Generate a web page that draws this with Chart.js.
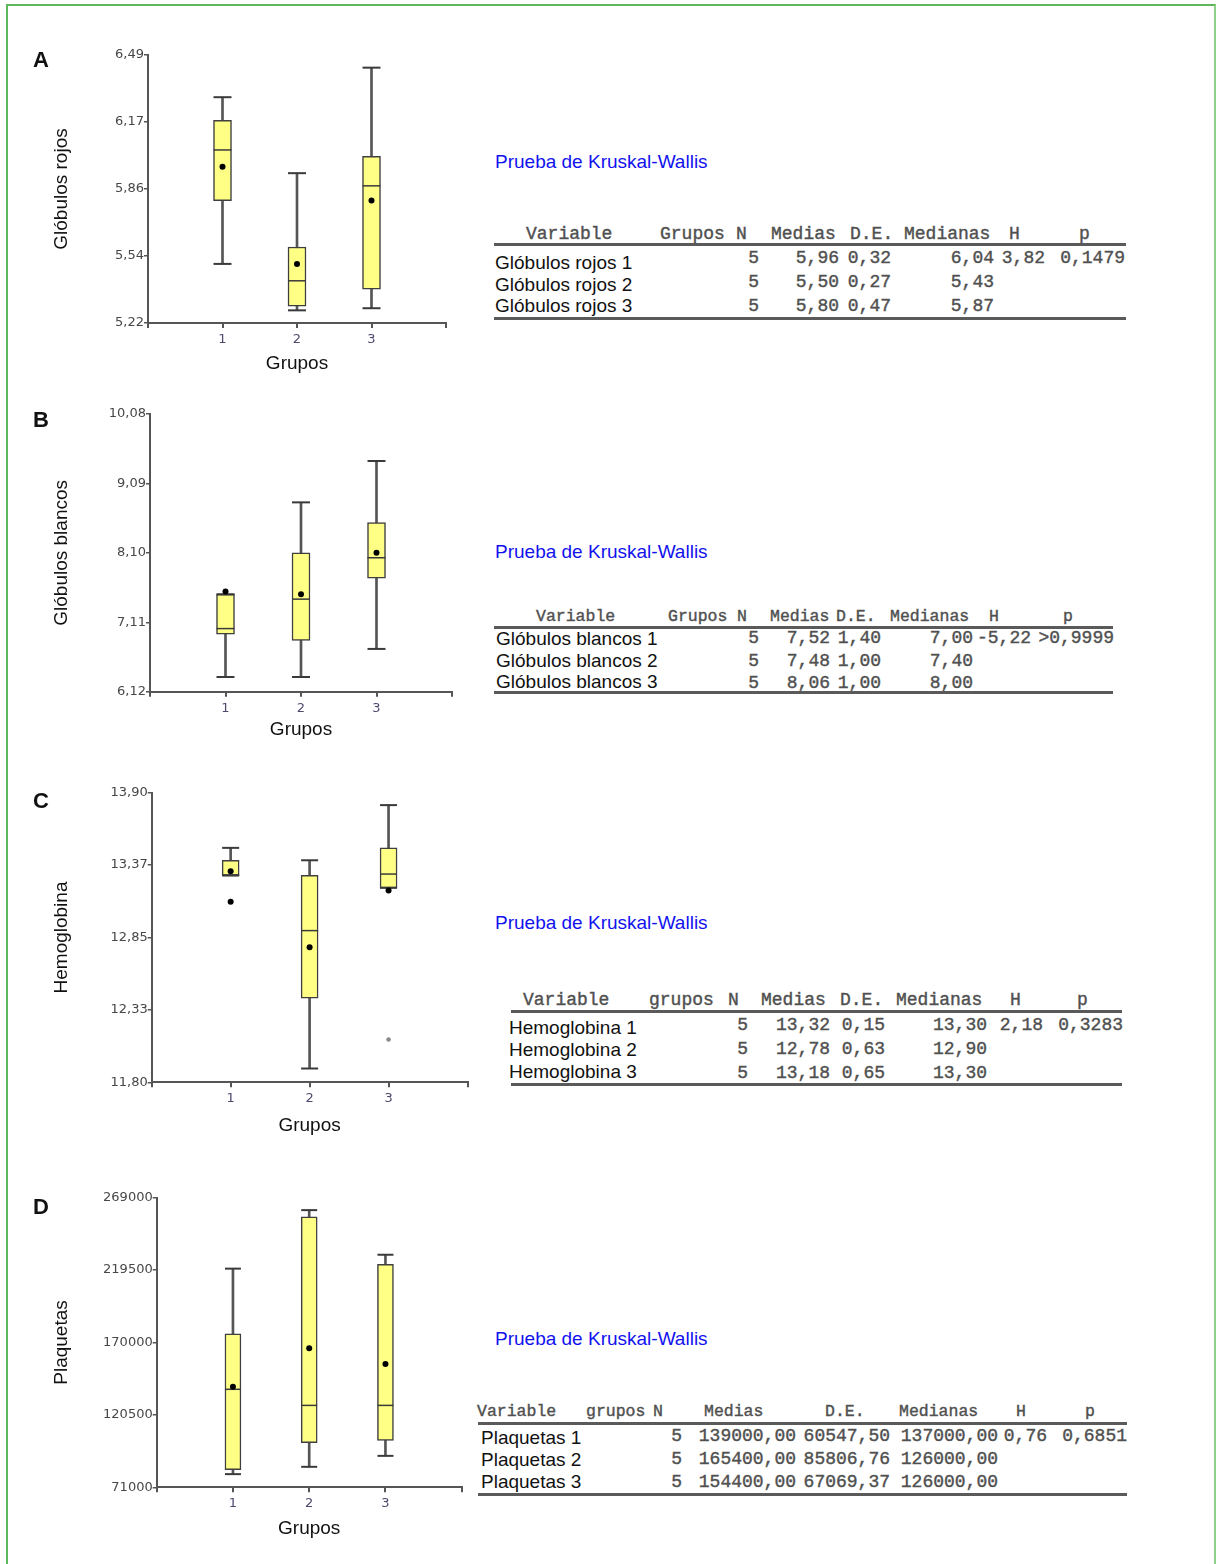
<!DOCTYPE html>
<html><head><meta charset="utf-8">
<script src="https://cdn.jsdelivr.net/npm/chart.js@4.4.1/dist/chart.umd.min.js"></script>
<style>
html,body{margin:0;padding:0;background:#fff;}
#page{position:relative;width:1216px;height:1564px;overflow:hidden;font-family:'Liberation Sans',Arial,sans-serif;background:#fff;}
.frame{position:absolute;left:6px;top:4px;width:1206px;height:1600px;border-left:2px solid #5db85a;border-top:2px solid #5db85a;border-right:2px solid #8fd08a;box-sizing:content-box;}
canvas{position:absolute;left:0;}
.t{position:absolute;white-space:pre;line-height:1;}
.letter{font-weight:bold;font-size:22px;color:#111;transform:translate(-50%,-50%);}
.kw{font-size:19px;color:#1212ee;transform:translateY(-50%);}
.lab{font-size:19px;color:#111;transform:translateY(-50%);}
.mono{font-family:'Liberation Mono','DejaVu Sans Mono',monospace;font-size:18px;font-weight:normal;color:#505050;-webkit-text-stroke:0.4px #505050;}
.hd{transform:translateY(-50%);}
.num{transform:translate(-100%,-50%);}
.rule{position:absolute;height:3px;background:#5a5a5a;}
</style></head>
<body>
<div id="page">
<div class="frame"></div>
<canvas id="cA"></canvas>
<canvas id="cB"></canvas>
<canvas id="cC"></canvas>
<canvas id="cD"></canvas>
</div>
<script>
// ---------- shared ----------
const groups = [1, 2, 3];
const xTickValues = [0, 1, 2, 3, 4];
const xTickLabels = ['', '1', '2', '3', ''];
const xTitle = 'Grupos';
const panelLetters = ['A', 'B', 'C', 'D'];

// ---------- Panel A: Glóbulos rojos ----------
const rojosTickValues = [5.22, 5.5375, 5.855, 6.1725, 6.49];
const rojosTickLabels = ['5,22', '5,54', '5,86', '6,17', '6,49'];
const rojosWhiskerLow = [5.50, 5.28, 5.29];
const rojosQ1 = [5.80, 5.30, 5.38];
const rojosMedian = [6.04, 5.42, 5.87];
const rojosQ3 = [6.18, 5.58, 6.01];
const rojosWhiskerHigh = [6.29, 5.93, 6.43];
const rojosMean = [5.96, 5.50, 5.80];
const rojosOutlierGroups = [];
const rojosOutlierValues = [];

// ---------- Panel B: Glóbulos blancos ----------
const blancosTickValues = [6.12, 7.11, 8.10, 9.09, 10.08];
const blancosTickLabels = ['6,12', '7,11', '8,10', '9,09', '10,08'];
const blancosWhiskerLow = [6.33, 6.33, 6.73];
const blancosQ1 = [6.94, 6.85, 7.74];
const blancosMedian = [7.02, 7.44, 8.03];
const blancosQ3 = [7.51, 8.10, 8.53];
const blancosWhiskerHigh = [7.51, 8.82, 9.41];
const blancosMean = [7.55, 7.51, 8.10];
const blancosOutlierGroups = [];
const blancosOutlierValues = [];

// ---------- Panel C: Hemoglobina ----------
const hemoTickValues = [11.80, 12.325, 12.85, 13.375, 13.90];
const hemoTickLabels = ['11,80', '12,33', '12,85', '13,37', '13,90'];
const hemoWhiskerLow = [13.30, 11.90, 13.21];
const hemoQ1 = [13.30, 12.41, 13.21];
const hemoMedian = [13.30, 12.90, 13.31];
const hemoQ3 = [13.41, 13.30, 13.50];
const hemoWhiskerHigh = [13.50, 13.41, 13.81];
const hemoMean = [13.33, 12.78, 13.19];
const hemoOutlierGroups = [1, 3];
const hemoOutlierValues = [13.11, 12.11];

// ---------- Panel D: Plaquetas ----------
const plaqTickValues = [71000, 120500, 170000, 219500, 269000];
const plaqTickLabels = ['71000', '120500', '170000', '219500', '269000'];
const plaqWhiskerLow = [80000, 85000, 92500];
const plaqQ1 = [83000, 101500, 103000];
const plaqMedian = [138000, 127000, 127000];
const plaqQ3 = [176000, 256000, 223500];
const plaqWhiskerHigh = [220500, 260500, 230000];
const plaqMean = [139800, 166000, 155300];
const plaqOutlierGroups = [];
const plaqOutlierValues = [];

// ---------- Kruskal-Wallis tables ----------
const kwTitle = 'Prueba de Kruskal-Wallis';
const kwHeaderA = ['Variable', 'Grupos', 'N', 'Medias', 'D.E.', 'Medianas', 'H', 'p'];
const kwHeaderC = ['Variable', 'grupos', 'N', 'Medias', 'D.E.', 'Medianas', 'H', 'p'];

const kwVarsA = ['Glóbulos rojos 1', 'Glóbulos rojos 2', 'Glóbulos rojos 3'];
const kwNA = ['5', '5', '5'];
const kwMediasA = ['5,96', '5,50', '5,80'];
const kwDEA = ['0,32', '0,27', '0,47'];
const kwMedianasA = ['6,04', '5,43', '5,87'];
const kwHA = ['3,82', '', ''];
const kwPA = ['0,1479', '', ''];

const kwVarsB = ['Glóbulos blancos 1', 'Glóbulos blancos 2', 'Glóbulos blancos 3'];
const kwNB = ['5', '5', '5'];
const kwMediasB = ['7,52', '7,48', '8,06'];
const kwDEB = ['1,40', '1,00', '1,00'];
const kwMedianasB = ['7,00', '7,40', '8,00'];
const kwHB = ['-5,22', '', ''];
const kwPB = ['>0,9999', '', ''];

const kwVarsC = ['Hemoglobina 1', 'Hemoglobina 2', 'Hemoglobina 3'];
const kwNC = ['5', '5', '5'];
const kwMediasC = ['13,32', '12,78', '13,18'];
const kwDEC = ['0,15', '0,63', '0,65'];
const kwMedianasC = ['13,30', '12,90', '13,30'];
const kwHC = ['2,18', '', ''];
const kwPC = ['0,3283', '', ''];

const kwVarsD = ['Plaquetas 1', 'Plaquetas 2', 'Plaquetas 3'];
const kwND = ['5', '5', '5'];
const kwMediasD = ['139000,00', '165400,00', '154400,00'];
const kwDED = ['60547,50', '85806,76', '67069,37'];
const kwMedianasD = ['137000,00', '126000,00', '126000,00'];
const kwHD = ['0,76', '', ''];
const kwPD = ['0,6851', '', ''];

// ---------- layout (positions / sizes only) ----------
const geo = {
  A: {yTop: 55, yBottom: 323, axisX: 148, xEnd: 447, titleY: 364, boxW: 18, letterY: 60},
  B: {yTop: 414, yBottom: 691.7, axisX: 150, xEnd: 453, titleY: 730, boxW: 18, letterY: 420},
  C: {yTop: 792.7, yBottom: 1082.3, axisX: 151.7, xEnd: 468, titleY: 1126, boxW: 17, letterY: 801},
  D: {yTop: 1197.7, yBottom: 1487.3, axisX: 156.7, xEnd: 461.7, titleY: 1529, boxW: 16, letterY: 1207}
};
const tblGeo = {
  A: {titleY: 161, headerY: 234, rule1: 244, rule2: 318, ruleX: [494, 1126], labelX: 495, hdSize: 18,
      labelYs: [262, 284, 305], numYs: [258, 282, 306],
      headerX: [526, 660, 736, 771, 850, 904, 1009, 1079], numRight: [759, 839, 891, 994, 1045, 1125]},
  B: {titleY: 551, headerY: 617, rule1: 627, rule2: 692, ruleX: [494, 1113], labelX: 496, hdSize: 16.5,
      labelYs: [638, 660, 681], numYs: [638, 661, 683],
      headerX: [536, 668, 737, 770, 836, 890, 989, 1063], numRight: [759, 830, 881, 973, 1031, 1114]},
  C: {titleY: 922, headerY: 1000, rule1: 1011, rule2: 1084, ruleX: [511, 1122], labelX: 509, hdSize: 18,
      labelYs: [1027, 1049, 1071], numYs: [1025, 1049, 1073],
      headerX: [523, 649, 728, 761, 840, 896, 1010, 1077], numRight: [748, 830, 885, 987, 1043, 1123]},
  D: {titleY: 1338, headerY: 1412, rule1: 1423, rule2: 1494, ruleX: [478, 1127], labelX: 481, hdSize: 16.5,
      labelYs: [1437, 1459, 1481], numYs: [1436, 1459, 1482],
      headerX: [477, 586, 653, 704, 825, 899, 1016, 1085], numRight: [682, 796, 890, 998, 1047, 1127]}
};

const panels = [
  {key: 'A', id: 'cA', yTitle: 'Glóbulos rojos', tv: rojosTickValues, tl: rojosTickLabels,
   low: rojosWhiskerLow, q1: rojosQ1, med: rojosMedian, q3: rojosQ3, high: rojosWhiskerHigh, mean: rojosMean,
   og: rojosOutlierGroups, ov: rojosOutlierValues, oc: []},
  {key: 'B', id: 'cB', yTitle: 'Glóbulos blancos', tv: blancosTickValues, tl: blancosTickLabels,
   low: blancosWhiskerLow, q1: blancosQ1, med: blancosMedian, q3: blancosQ3, high: blancosWhiskerHigh, mean: blancosMean,
   og: blancosOutlierGroups, ov: blancosOutlierValues, oc: []},
  {key: 'C', id: 'cC', yTitle: 'Hemoglobina', tv: hemoTickValues, tl: hemoTickLabels,
   low: hemoWhiskerLow, q1: hemoQ1, med: hemoMedian, q3: hemoQ3, high: hemoWhiskerHigh, mean: hemoMean,
   og: hemoOutlierGroups, ov: hemoOutlierValues, oc: ['#000000', '#8a8a8a']},
  {key: 'D', id: 'cD', yTitle: 'Plaquetas', tv: plaqTickValues, tl: plaqTickLabels,
   low: plaqWhiskerLow, q1: plaqQ1, med: plaqMedian, q3: plaqQ3, high: plaqWhiskerHigh, mean: plaqMean,
   og: plaqOutlierGroups, ov: plaqOutlierValues, oc: []}
];

const AXIS = '#555555';
const TITLE_FONT = {family: "'Liberation Sans', Arial, sans-serif", size: 19};
const TICK_FONT = {family: "'DejaVu Sans', sans-serif", size: 13};
const TITLE_HALF = 19 * 1.2 / 2;
const LEFT_PAD = 62 - TITLE_HALF;

function buildPanel(p) {
  const g = geo[p.key];
  const canvas = document.getElementById(p.id);
  const cTop = Math.round(g.yTop - 20);
  const H = Math.ceil(g.titleY + TITLE_HALF + 4 - cTop);
  const W = Math.ceil(g.xEnd + 10);
  canvas.width = W; canvas.height = H;
  canvas.style.width = W + 'px'; canvas.style.height = H + 'px';
  canvas.style.top = cTop + 'px';
  const padTop = g.yTop - cTop;
  const padBottom = cTop + H - (g.titleY + TITLE_HALF);
  const padRight = W - g.xEnd;
  const xAxisH = g.titleY + TITLE_HALF - g.yBottom;
  const yAxisW = g.axisX - LEFT_PAD;
  const half = g.boxW / 2;

  const pts = (vals) => groups.map((x, i) => ({x: x, y: vals[i]}));
  const caps = groups.map((x, i) => ({x: x, y: p.low[i]})).concat(groups.map((x, i) => ({x: x, y: p.high[i]})));
  const datasets = [
    {type: 'scatter', label: 'Media', data: pts(p.mean), showLine: false, order: 0, clip: false,
     pointStyle: 'circle', pointRadius: 3, pointBackgroundColor: '#000', pointBorderColor: '#000', pointBorderWidth: 0},
    {type: 'scatter', label: 'Atípicos', data: p.og.map((x, i) => ({x: x, y: p.ov[i]})), showLine: false, order: 0, clip: false,
     pointStyle: 'circle', pointRadius: p.oc.map(c => c === '#000000' ? 3 : 2.3),
     pointBackgroundColor: p.oc, pointBorderColor: p.oc, pointBorderWidth: 0},
    {type: 'scatter', label: 'Mediana', data: pts(p.med), showLine: false, order: 1, clip: false,
     pointStyle: 'line', pointRadius: half, pointBorderColor: '#3a3a3a', pointBorderWidth: 1.5},
    {type: 'scatter', label: 'Extremos', data: caps, showLine: false, order: 1, clip: false,
     pointStyle: 'line', pointRadius: half, pointBorderColor: '#3a3a3a', pointBorderWidth: 2},
    {type: 'bar', label: 'Caja', data: groups.map((x, i) => ({x: x, y: [p.q1[i], p.q3[i]]})), order: 2,
     grouped: false, barThickness: g.boxW, backgroundColor: '#ffff85', borderColor: '#3f3f3f', borderWidth: 1.5, borderSkipped: false},
    {type: 'bar', label: 'Bigotes', data: groups.map((x, i) => ({x: x, y: [p.low[i], p.high[i]]})), order: 3,
     grouped: false, barThickness: 2, backgroundColor: '#555', borderWidth: 0}
  ];

  new Chart(canvas, {
    type: 'bar',
    data: {datasets: datasets},
    options: {
      responsive: false, animation: false, events: [], devicePixelRatio: 1,
      layout: {padding: {left: LEFT_PAD, top: padTop, right: padRight, bottom: padBottom}},
      plugins: {legend: {display: false}, tooltip: {enabled: false}, title: {display: false}},
      scales: {
        x: {
          type: 'linear', min: 0, max: 4, offset: false,
          afterBuildTicks: s => { s.ticks = xTickValues.map(v => ({value: v})); },
          ticks: {callback: (v, i) => xTickLabels[i], font: TICK_FONT, color: '#4d4a6e', padding: 4,
                  maxRotation: 0, autoSkip: false},
          grid: {drawOnChartArea: false, drawTicks: true, tickLength: 5, color: AXIS, lineWidth: 2, offset: false},
          border: {display: true, color: AXIS, width: 2},
          title: {display: true, text: xTitle, font: TITLE_FONT, color: '#111', padding: 0},
          afterFit: s => { s.height = xAxisH; }
        },
        y: {
          type: 'linear', min: p.tv[0], max: p.tv[p.tv.length - 1],
          afterBuildTicks: s => { s.ticks = p.tv.map(v => ({value: v})); },
          ticks: {callback: (v, i) => p.tl[i], font: TICK_FONT, color: '#474747', padding: 0, autoSkip: false},
          grid: {drawOnChartArea: false, drawTicks: true, tickLength: 4, color: AXIS, lineWidth: 1.5},
          border: {display: true, color: AXIS, width: 2},
          title: {display: true, text: p.yTitle, font: TITLE_FONT, color: '#111', padding: 0},
          afterFit: s => { s.width = yAxisW; }
        }
      }
    }
  });
}

panels.forEach(buildPanel);

// ---------- HTML text: panel letters and tables ----------
const page = document.getElementById('page');
function addText(cls, text, x, y) {
  const d = document.createElement('div');
  d.className = 't ' + cls;
  d.textContent = text;
  d.style.left = x + 'px';
  d.style.top = y + 'px';
  page.appendChild(d);
  return d;
}
function addRule(x1, x2, y) {
  const d = document.createElement('div');
  d.className = 'rule';
  d.style.left = x1 + 'px';
  d.style.width = (x2 - x1) + 'px';
  d.style.top = (y - 1.5) + 'px';
  page.appendChild(d);
}
['A', 'B', 'C', 'D'].forEach((k, i) => addText('letter', panelLetters[i], 41, geo[k].letterY));

const tables = [
  {key: 'A', header: kwHeaderA, vars: kwVarsA, cols: [kwNA, kwMediasA, kwDEA, kwMedianasA, kwHA, kwPA]},
  {key: 'B', header: kwHeaderA, vars: kwVarsB, cols: [kwNB, kwMediasB, kwDEB, kwMedianasB, kwHB, kwPB]},
  {key: 'C', header: kwHeaderC, vars: kwVarsC, cols: [kwNC, kwMediasC, kwDEC, kwMedianasC, kwHC, kwPC]},
  {key: 'D', header: kwHeaderC, vars: kwVarsD, cols: [kwND, kwMediasD, kwDED, kwMedianasD, kwHD, kwPD]}
];
tables.forEach(t => {
  const g = tblGeo[t.key];
  addText('kw', kwTitle, 495, g.titleY);
  t.header.forEach((h, i) => {
    const d = addText('mono hd', h, g.headerX[i], g.headerY);
    d.style.fontSize = g.hdSize + 'px';
  });
  addRule(g.ruleX[0], g.ruleX[1], g.rule1);
  t.vars.forEach((v, r) => {
    addText('lab', v, g.labelX, g.labelYs[r]);
    t.cols.forEach((col, c) => { if (col[r]) addText('mono num', col[r], g.numRight[c], g.numYs[r]); });
  });
  addRule(g.ruleX[0], g.ruleX[1], g.rule2);
});
</script>
</body></html>
